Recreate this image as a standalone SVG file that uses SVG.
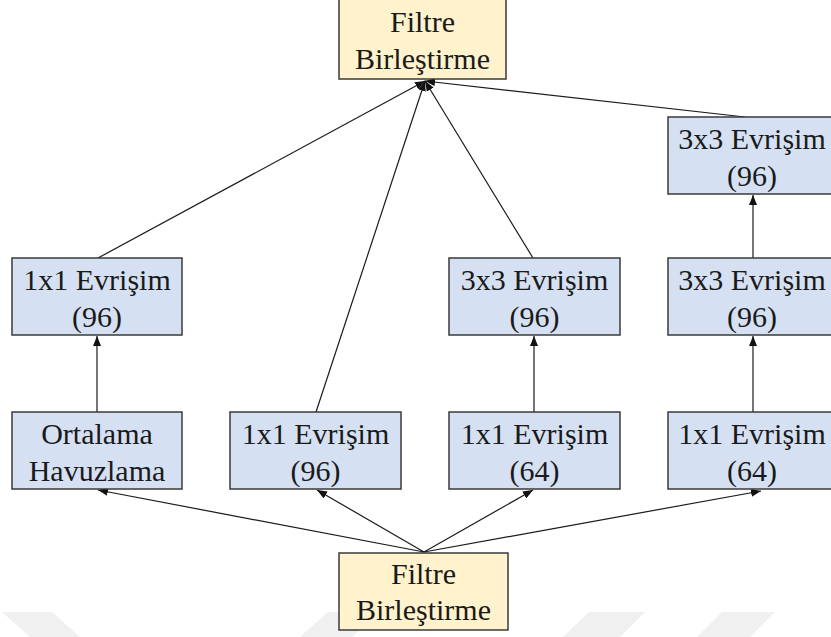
<svg xmlns="http://www.w3.org/2000/svg" width="831" height="637" viewBox="0 0 831 637">
  <defs>
    <marker id="arrow" viewBox="0 0 10 8" refX="10" refY="4" markerWidth="10" markerHeight="8" markerUnits="userSpaceOnUse" orient="auto">
      <path d="M0,0 L10,4 L0,8 z" fill="#111"/>
    </marker>
    <style>
      .conv rect { fill: #d5e1f2; stroke: #3a3a3a; stroke-width: 1.5; }
      .merge rect { fill: #fff2cc; stroke: #3a3a3a; stroke-width: 1.5; }
      text { font-size: 30px; fill: #1a1a1a; text-anchor: middle; }
      .edges line { stroke: #1a1a1a; stroke-width: 1.2; marker-end: url(#arrow); }
      .wm { fill: #f0f0f0; }
    </style>
  </defs>
  <rect width="831" height="637" fill="#ffffff"/>

  <!-- faint background marks along the bottom edge -->
  <g id="backdrop">
    <polygon class="wm" points="2,612 52,612 80,637 30,637"/>
    <polygon class="wm" points="328,612 380,612 352,637 300,637"/>
    <polygon class="wm" points="589,612 645,612 620,637 563,637"/>
    <polygon class="wm" points="722,612 775,612 750,637 697,637"/>
  </g>

  <g class="edges" id="connectors">
    <!-- into the top concatenation -->
    <line x1="98" y1="258" x2="425" y2="81"/>
    <line x1="316" y1="412" x2="425" y2="81"/>
    <line x1="533" y1="258" x2="425" y2="81"/>
    <line x1="745" y1="117" x2="425" y2="81"/>
    <!-- vertical chains -->
    <line x1="97" y1="412" x2="97" y2="336"/>
    <line x1="534" y1="412" x2="534" y2="336"/>
    <line x1="753" y1="412" x2="753" y2="336"/>
    <line x1="753" y1="258" x2="753" y2="195"/>
    <!-- out of the bottom concatenation -->
    <line x1="424" y1="552" x2="98" y2="490"/>
    <line x1="424" y1="552" x2="317" y2="490"/>
    <line x1="424" y1="552" x2="533" y2="490"/>
    <line x1="424" y1="552" x2="761" y2="491"/>
  </g>

  <g font-family="'Liberation Serif', 'DejaVu Serif', serif">
  <g id="concat-top" class="merge">
    <rect x="339" y="-1" width="167" height="80"/>
    <text x="422.5" y="32">Filtre</text>
    <text x="422.5" y="69">Birleştirme</text>
  </g>

  <g id="conv3x3-b" class="conv">
    <rect x="668" y="117" width="172" height="77"/>
    <text x="752" y="149">3x3 Evrişim</text>
    <text x="752" y="186">(96)</text>
  </g>

  <g id="conv1x1-pool" class="conv">
    <rect x="12" y="258" width="170" height="77"/>
    <text x="97" y="290">1x1 Evrişim</text>
    <text x="97" y="327">(96)</text>
  </g>

  <g id="conv3x3-c" class="conv">
    <rect x="449" y="258" width="171" height="77"/>
    <text x="534.5" y="290">3x3 Evrişim</text>
    <text x="534.5" y="327">(96)</text>
  </g>

  <g id="conv3x3-a" class="conv">
    <rect x="668" y="258" width="172" height="77"/>
    <text x="752" y="290">3x3 Evrişim</text>
    <text x="752" y="327">(96)</text>
  </g>

  <g id="avgpool" class="conv">
    <rect x="12" y="412" width="170" height="77"/>
    <text x="97" y="444">Ortalama</text>
    <text x="97" y="481">Havuzlama</text>
  </g>

  <g id="conv1x1-a" class="conv">
    <rect x="230" y="412" width="171" height="77"/>
    <text x="315.5" y="444">1x1 Evrişim</text>
    <text x="315.5" y="481">(96)</text>
  </g>

  <g id="conv1x1-b" class="conv">
    <rect x="449" y="412" width="171" height="77"/>
    <text x="534.5" y="444">1x1 Evrişim</text>
    <text x="534.5" y="481">(64)</text>
  </g>

  <g id="conv1x1-c" class="conv">
    <rect x="668" y="412" width="172" height="77"/>
    <text x="752" y="444">1x1 Evrişim</text>
    <text x="752" y="481">(64)</text>
  </g>

  <g id="concat-bottom" class="merge">
    <rect x="339" y="553" width="169" height="77"/>
    <text x="423.5" y="584">Filtre</text>
    <text x="423.5" y="620">Birleştirme</text>
  </g>
  </g>
</svg>
